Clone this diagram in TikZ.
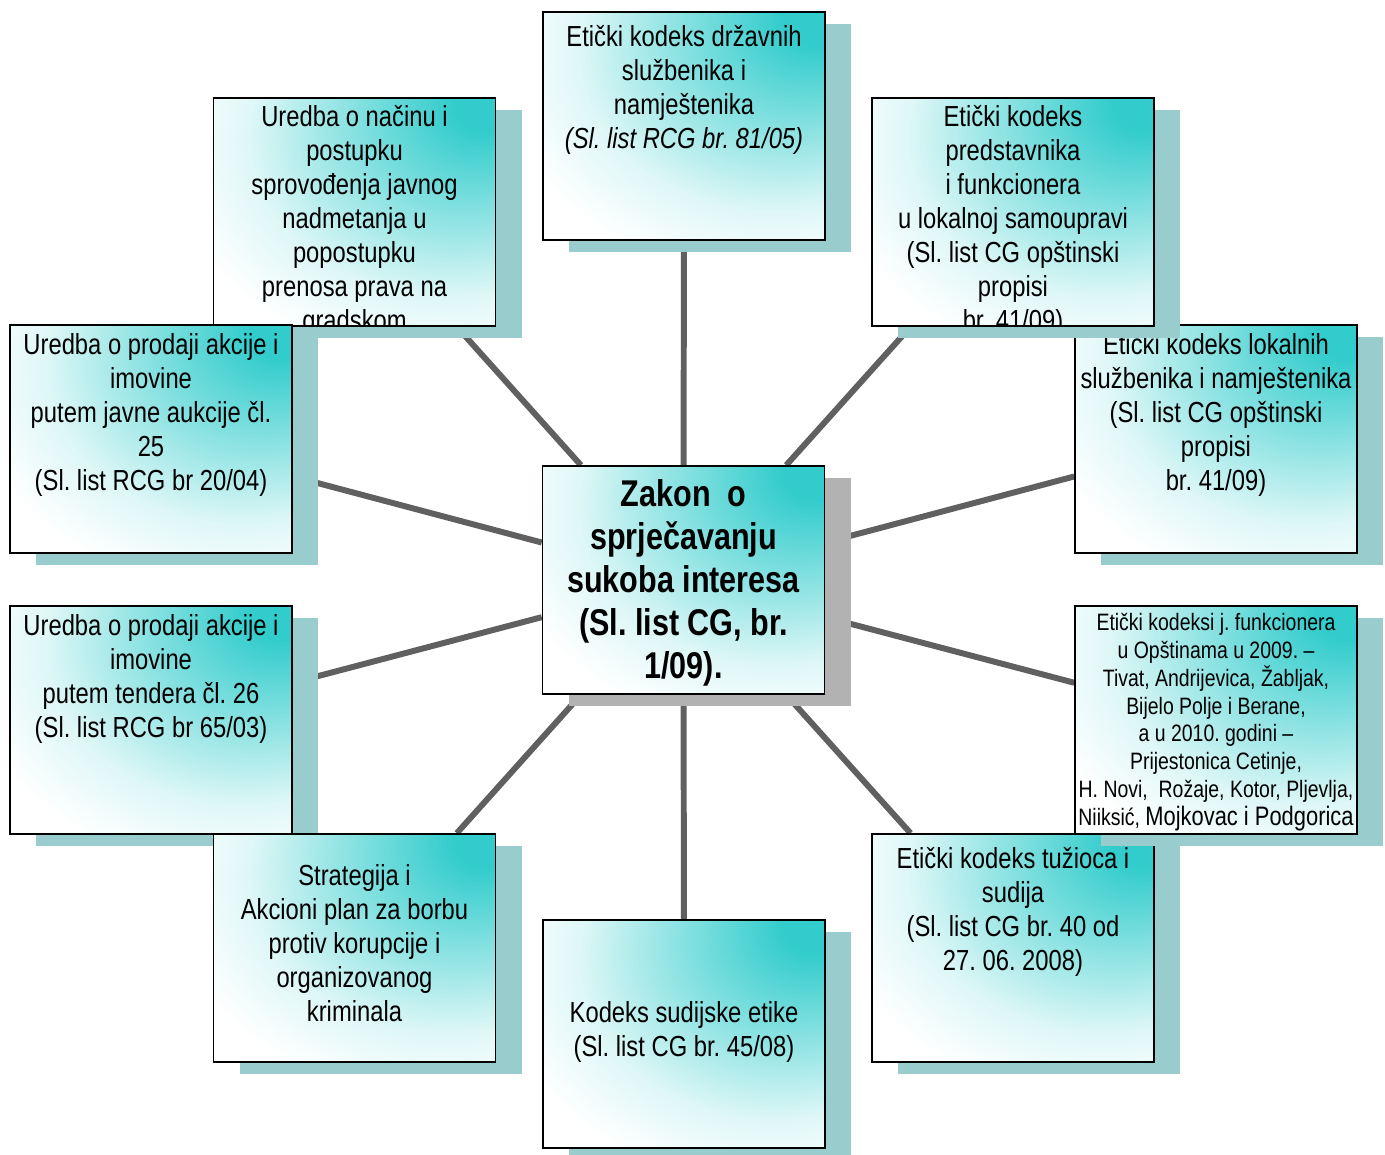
\documentclass[tikz,border=0pt]{standalone}
\usepackage{fontspec}
\setmainfont[FakeStretch=0.82]{Liberation Sans}
\usetikzlibrary{shadows,backgrounds}
\frenchspacing

\definecolor{tealc}{RGB}{51,204,204}
\definecolor{shadowteal}{RGB}{153,204,204}
\definecolor{shadowgray}{RGB}{178,178,178}
\definecolor{linegray}{RGB}{96,96,96}
\pgfdeclareradialshading{tealglow}{\pgfpoint{25bp}{25bp}}{color(0bp)=(tealc); color(6bp)=(tealc); color(25bp)=(tealc!45); color(35bp)=(tealc!16); color(46bp)=(white); color(100bp)=(white)}

\tikzset{
  boxbase/.style={draw=black, line width=0.9pt, shade, shading=tealglow,
    minimum width=5.64cm, minimum height=4.56cm, inner sep=0pt},
  lawbox/.style={boxbase, drop shadow={shadow xshift=0.52cm, shadow yshift=-0.24cm, fill=shadowteal, opacity=1}},
  zakonbox/.style={boxbase, drop shadow={shadow xshift=0.52cm, shadow yshift=-0.24cm, fill=shadowgray, opacity=1}},
  lawtext/.style={anchor=north, align=center, inner sep=0pt, font=\fontsize{16.5}{19.3}\selectfont},
  link/.style={draw=linegray, line width=3.4pt},
}

\begin{document}
\begin{tikzpicture}
    \useasboundingbox (0,0) rectangle (27.7,23.1);
    % upper left
    \node[lawbox] (nadmetanje) at (7.09,18.86) {};
    \begin{scope}
      \clip (nadmetanje.south west) rectangle (nadmetanje.north east);
      \node[lawtext] (nadmetanje-txt) at ([yshift=-0.16cm]nadmetanje.north) {Uredba o načinu i\\ postupku\\ sprovođenja javnog\\ nadmetanja u\\ popostupku\\ prenosa prava na\\ gradskom};
    \end{scope}
    \node[lawbox] (aukcija) at (3.02,14.32) {};
    \node[lawtext] (aukcija-txt) at ([yshift=-0.18cm]aukcija.north) {Uredba o prodaji akcije i\\ imovine\\ putem javne aukcije čl.\\ 25\\ (Sl. list RCG br 20/04)};
    \node[lawbox] (tender) at (3.02,8.70) {};
    \node[lawtext] (tender-txt) at ([yshift=-0.18cm]tender.north) {Uredba o prodaji akcije i\\ imovine\\ putem tendera čl. 26\\ (Sl. list RCG br 65/03)};
    % bottom
    \node[lawbox] (strategija) at (7.09,4.14) {};
    \node[lawtext] (strategija-txt) at ([yshift=-0.62cm]strategija.north) {Strategija i\\ Akcioni plan za borbu\\ protiv korupcije i\\ organizovanog\\ kriminala};
    \node[lawbox] (sudije) at (13.68,2.42) {};
    \node[lawtext] (sudije-txt) at ([yshift=-1.64cm]sudije.north) {Kodeks sudijske etike\\ (Sl. list CG br. 45/08)};
    \node[lawbox] (tuzioci) at (20.26,4.14) {};
    \node[lawtext] (tuzioci-txt) at ([yshift=-0.28cm]tuzioci.north) {Etički kodeks tužioca i\\ sudija\\ (Sl. list CG br. 40 od\\ 27. 06. 2008)};
    % right
    \node[lawbox] (opstine) at (24.32,8.70) {};
    \node[lawtext, font=\fontsize{13.5}{15.8}\selectfont] (opstine-txt) at ([yshift=-0.16cm]opstine.north) {Etički kodeksi j. funkcionera\\ u Opštinama u 2009. –\\ Tivat, Andrijevica, Žabljak,\\ Bijelo Polje i Berane,\\ a u 2010. godini –\\ Prijestonica Cetinje,\\ H. Novi,~ Rožaje, Kotor, Pljevlja,\\ Niiksić, {\fontsize{15.2}{16.5}\selectfont Mojkovac i Podgorica}};
    \node[lawbox] (lokalni) at (24.32,14.32) {};
    \node[lawtext] (lokalni-txt) at ([yshift=-0.18cm]lokalni.north) {Etički kodeks lokalnih\\ službenika i namještenika\\ (Sl. list CG opštinski\\ propisi\\ br. 41/09)};
    \node[lawbox] (predstavnici) at (20.26,18.86) {};
    \begin{scope}
      \clip (predstavnici.south west) rectangle (predstavnici.north east);
      \node[lawtext] (predstavnici-txt) at ([yshift=-0.16cm]predstavnici.north) {Etički kodeks\\ predstavnika\\ i funkcionera\\ u lokalnoj samoupravi\\ (Sl. list CG opštinski\\ propisi\\ br. 41/09)};
    \end{scope}
    % top
    \node[lawbox] (drzavni) at (13.68,20.58) {};
    \node[lawtext] (drzavni-txt) at ([yshift=-0.28cm]drzavni.north) {Etički kodeks državnih\\ službenika i\\ namještenika\\ \textit{(Sl. list RCG br. 81/05)}};
    % centre
    \node[zakonbox] (zakon) at (13.67,11.50) {};
    \node[lawtext, font=\bfseries\fontsize{21.2}{24.4}\selectfont] (zakon-txt) at ([yshift=-0.28cm]zakon.north) {Zakon~ o\\ sprječavanju\\ sukoba interesa\\ (Sl. list CG, br.\\ 1/09).};
    \begin{scope}[on background layer]
      \draw[link] (zakon) -- (drzavni);
      \draw[link] (zakon) -- (predstavnici);
      \draw[link] (zakon) -- (lokalni);
      \draw[link] (zakon) -- (opstine);
      \draw[link] (zakon) -- (tuzioci);
      \draw[link] (zakon) -- (sudije);
      \draw[link] (zakon) -- (strategija);
      \draw[link] (zakon) -- (tender);
      \draw[link] (zakon) -- (aukcija);
      \draw[link] (zakon) -- (nadmetanje);
    \end{scope}
\end{tikzpicture}
\end{document}
